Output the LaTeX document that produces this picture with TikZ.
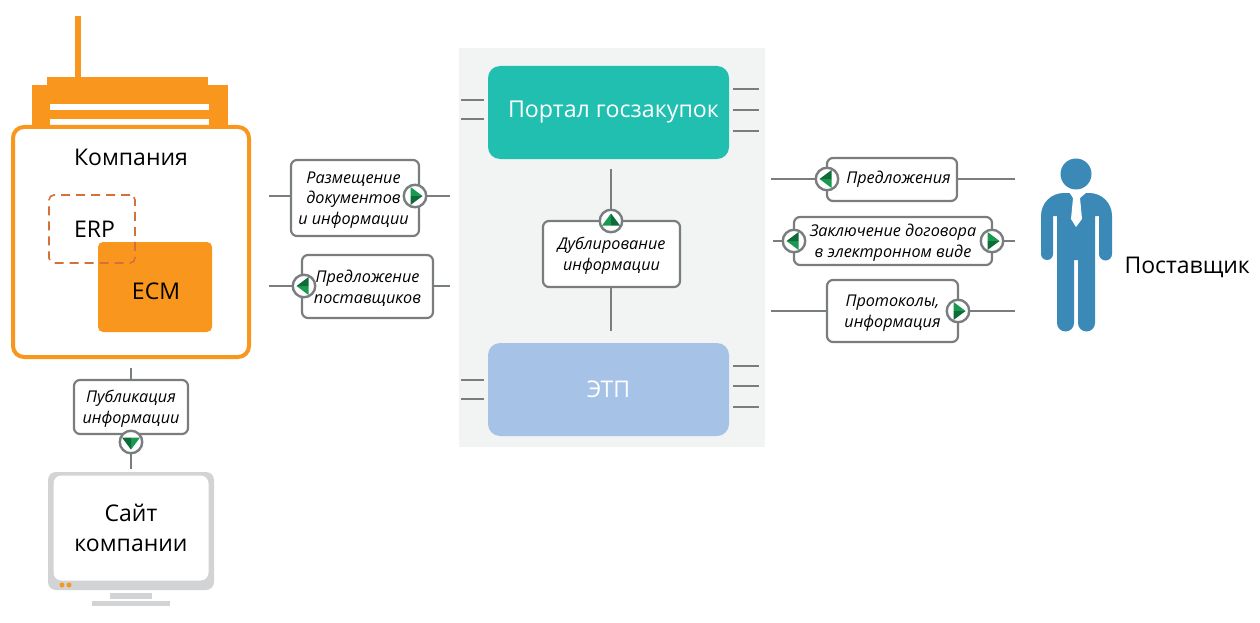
\documentclass[tikz,border=0pt]{standalone}
\usepackage{fontspec}
\setmainfont{Open Sans}
\definecolor{org}{HTML}{F9961D}
\definecolor{dash}{HTML}{D4703A}
\definecolor{ln}{HTML}{7A7D7E}
\definecolor{teal}{HTML}{20BFB0}
\definecolor{etp}{HTML}{A6C3E7}
\definecolor{panel}{HTML}{F2F4F3}
\definecolor{mon}{HTML}{D1D3D4}
\definecolor{per}{HTML}{3A89B7}
\definecolor{gA}{HTML}{1A9A50}
\definecolor{gB}{HTML}{0E6B3A}
\newcommand{\lft}{\rule{0pt}{15.5pt}}
\tikzset{
  x=1pt,y=-1pt,
  lbl/.style={draw=ln,line width=2.2pt,rounded corners=6pt,fill=white,inner sep=0pt,align=center,font=\fontsize{16.2}{20.5}\selectfont\itshape},
  conn/.style={draw=ln,line width=2pt},
  stub/.style={draw=ln,line width=1.6pt},
  circ/.style={circle,draw=ln,line width=2.4pt,fill=white,minimum size=22.5pt,inner sep=0pt},
  big/.style={font=\fontsize{23}{30}\selectfont},
}
\newcommand{\arrowicon}[2]{% centre node name, angle
  \begin{scope}[shift={(#1.center)},rotate=#2]
    \fill[gA] (-4.5,-9) -- (7.5,0) -- (-4.5,0) -- cycle;
    \fill[gB] (-4.5,9) -- (7.5,0) -- (-4.5,0) -- cycle;
  \end{scope}}
\begin{document}
\begin{tikzpicture}
\useasboundingbox (0,0) rectangle (1260,623);
% panel
\fill[panel] (459,48) rectangle (765,447);
% company building
\fill[org] (74.5,16) rectangle (81,78);
\fill[org] (47,77) rectangle (208,90);
\fill[org] (32,85) rectangle (228,128);
\fill[white] (50,104) rectangle (209,110);
\fill[white] (50,119) rectangle (209,125);
\node[draw=org,line width=4pt,fill=white,rounded corners=11pt,minimum width=236pt,minimum height=230pt,inner sep=0pt] (comp) at (131,242) {};
\node[big] (compT) at (131,157.5) {Компания};
\node[fill=org,rounded corners=5pt,minimum width=114pt,minimum height=90pt,inner sep=0pt] (ecm) at (155,287) {};
\node[draw=dash,dash pattern=on 9pt off 6pt,line width=1.6pt,rounded corners=5pt,minimum width=86pt,minimum height=68pt,inner sep=0pt] (erp) at (92,229) {};
\node[big] (erpT) at (94.5,229.5) {ERP};
\node[big] (ecmT) at (156,291.5) {ECM};
% site
\node[fill=mon,rounded corners=8pt,minimum width=166pt,minimum height=118pt,inner sep=0pt] (mon) at (131,531) {};
\node[fill=white,rounded corners=8pt,minimum width=155pt,minimum height=105pt,inner sep=0pt,big,align=center] (scr) at (131,528) {Сайт\\компании};
\fill[org] (62,585) circle (2.5);
\fill[org] (69,585) circle (2.5);
\fill[mon] (110,593) rectangle (152,599);
\fill[mon] (92,601) rectangle (170,606);
% main blocks
\node[fill=teal,rounded corners=12pt,minimum width=241pt,minimum height=93pt,inner sep=0pt,text=white,font=\fontsize{23.2}{30}\selectfont] (portal) at (608.5,112.5) {\hspace*{10pt}Портал госзакупок};
\node[fill=etp,rounded corners=12pt,minimum width=241pt,minimum height=93pt,inner sep=0pt,text=white,big] (etpn) at (608.5,389.5) {ЭТП};
% free-end coordinates
\coordinate (a1) at (269,196); \coordinate (a2) at (450,196);
\coordinate (b1) at (269,286); \coordinate (b2) at (450,286);
\coordinate (c1) at (771,179); \coordinate (c2) at (1015,179);
\coordinate (d1) at (773,241); \coordinate (d2) at (1015,241);
\coordinate (e1) at (771,311); \coordinate (e2) at (1015,311);
\coordinate (f1) at (611,169); \coordinate (f2) at (611,331);
\coordinate (g1) at (131,368); \coordinate (g2) at (131,469);
% connectors
\draw[conn] (a1) -- (a2);
\draw[conn] (b1) -- (b2);
\draw[conn] (c1) -- (c2);
\draw[conn] (d1) -- (d2);
\draw[conn] (e1) -- (e2);
\draw[conn] (f1) -- (f2);
\draw[conn] (g1) -- (g2);
% stubs
\foreach \y in {100,119,380,399} \draw[stub] (461,\y) -- (484,\y);
\foreach \y in {89,110,131,366,386,407} \draw[stub] (733,\y) -- (759,\y);
% label boxes
\node[lbl,minimum width=128pt,minimum height=76pt] (l1) at (355,198) {\lft\hspace*{-3pt}Размещение\\\hspace*{-3pt}документов\\\hspace*{-3pt}и информации};
\node[lbl,minimum width=131pt,minimum height=63pt] (l2) at (367.5,286.5) {\lft Предложение\\поставщиков};
\node[lbl,minimum width=137pt,minimum height=66pt] (l3) at (611.5,254) {\lft Дублирование\\информации};
\node[lbl,minimum width=130pt,minimum height=43pt] (l4) at (892,179.5) {\hspace{13pt}Предложения};
\node[lbl,minimum width=198pt,minimum height=48pt] (l5) at (893,241) {\lft Заключение договора\\в электронном виде};
\node[lbl,minimum width=131pt,minimum height=62pt] (l6) at (892.5,311) {\lft Протоколы,\\информация};
\node[lbl,minimum width=114pt,minimum height=54pt] (l7) at (131,407) {\lft Публикация\\информации};
% arrow circles
\node[circ] (k1) at (415,196) {}; \arrowicon{k1}{0}
\node[circ] (k2) at (304,286) {}; \arrowicon{k2}{180}
\node[circ] (k3) at (611,221) {}; \arrowicon{k3}{90}
\node[circ] (k4) at (827,179) {}; \arrowicon{k4}{180}
\node[circ] (k5) at (794,241) {}; \arrowicon{k5}{180}
\node[circ] (k6) at (992,241) {}; \arrowicon{k6}{0}
\node[circ] (k7) at (958,311) {}; \arrowicon{k7}{0}
\node[circ] (k8) at (131,442) {}; \arrowicon{k8}{-90}
% person
\fill[per] (1076,174) circle (15.5);
\fill[per] (1041,254) -- (1041,216) .. controls (1041,203) and (1051,193) .. (1064,193) -- (1089,193) .. controls (1102,193) and (1112,203) .. (1112,216) -- (1112,254) arc[start angle=0,end angle=180,radius=6.5] -- (1099,216) -- (1095,216) -- (1095,323) arc[start angle=0,end angle=180,radius=8.5] -- (1078,260) -- (1074,260) -- (1074,323) arc[start angle=0,end angle=180,radius=8.5] -- (1057,216) -- (1053,216) -- (1053,254) arc[start angle=0,end angle=180,radius=6] -- cycle;
\fill[white] (1069,192) -- (1087,192) -- (1080,198) -- (1082,219) -- (1076,227) -- (1071,219) -- (1073,198) -- cycle;
\node[anchor=west,font=\fontsize{23}{26}\selectfont] (sup) at (1121,267) {Поставщик};
\end{tikzpicture}
\end{document}
